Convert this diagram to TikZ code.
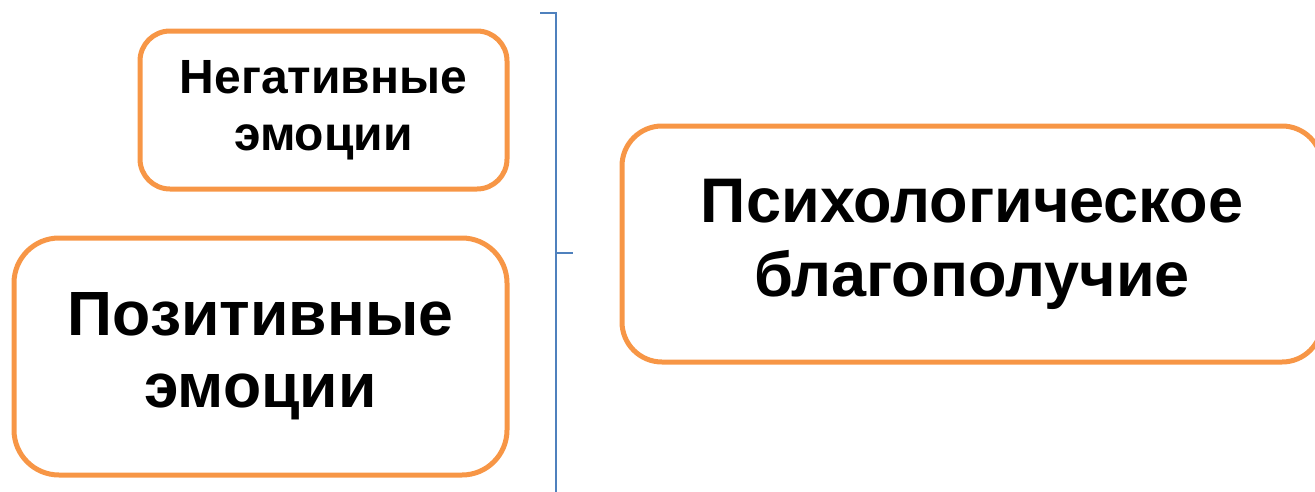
\documentclass[tikz,border=0pt]{standalone}
\usepackage{fontspec}
\setmainfont{Liberation Sans}
\definecolor{boxorange}{RGB}{247,150,70}
\definecolor{lineblue}{RGB}{79,129,189}
\tikzset{
  emobox/.style={draw=boxorange, line width=5pt, align=center, inner sep=0pt, font=\bfseries},
}
\begin{document}
\begin{tikzpicture}[x=1pt, y=-1pt]
        \useasboundingbox (0,0) rectangle (1315,491);
        \node[emobox, rounded corners=30pt, minimum width=367pt, minimum height=158pt,
              font=\bfseries\fontsize{48}{57}\selectfont] (neg) at (323.5,110) {Негативные\\эмоции};
        \node[emobox, rounded corners=45pt, minimum width=493pt, minimum height=237pt,
              font=\bfseries\fontsize{62.5}{72}\selectfont] (pos) at (260.5,356.5) {Позитивные\\эмоции};
        \node[emobox, rounded corners=40pt, minimum width=700pt, minimum height=236pt,
              font=\bfseries\fontsize{63}{74}\selectfont] (wellbeing) at (972,244) {Психологическое\\благополучие};

        \coordinate (brtop) at (540,13);
        \coordinate (brmid) at (556,253);
        \coordinate (brend) at (573,253);
        \draw [lineblue, line width=2pt] (brtop) -- (556,13) -- (556,495);
        \draw [lineblue, line width=2pt] (brmid) -- (brend);
\end{tikzpicture}
\end{document}
